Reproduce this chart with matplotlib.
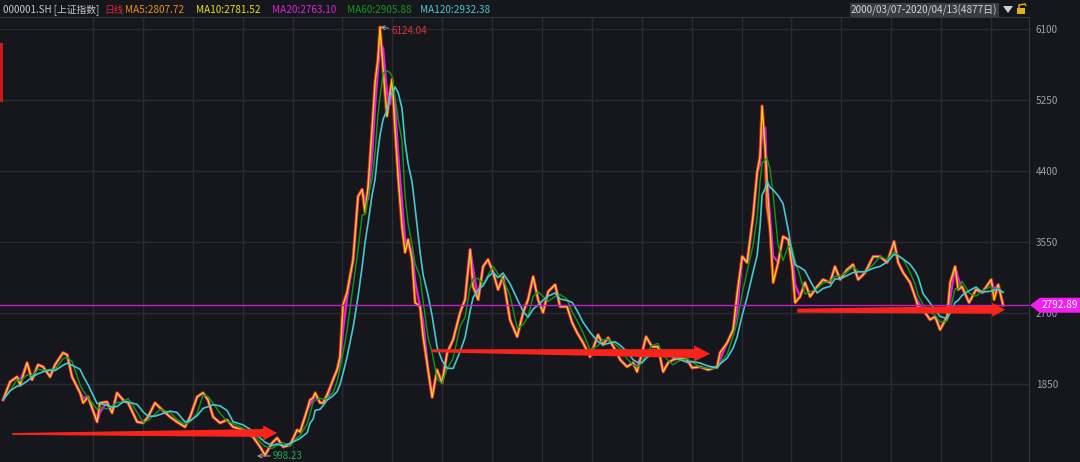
import numpy as np
import pandas as pd
import matplotlib
matplotlib.use('Agg')
import matplotlib.pyplot as plt
from matplotlib.patches import Polygon, Rectangle

plt.rcParams['font.family'] = ['Noto Sans CJK SC', 'DejaVu Sans']

BG = '#15171c'
GRID = '#2a2c32'

# trading-day offset from 2000/03/07 and close of the Shanghai Composite
day = [5, 39, 73, 88, 122, 146, 175, 200, 234, 258, 297, 317, 341, 380, 395, 419, 463, 477, 511, 536,
       560, 589, 614, 658, 687, 711, 745, 770, 818, 852, 891, 916, 950, 979, 1003, 1028, 1062, 1096, 1125, 1174,
       1223, 1257, 1281, 1315, 1340, 1369, 1403, 1437, 1452, 1486, 1500, 1515, 1525, 1549, 1564, 1583, 1612, 1632, 1646, 1661,
       1680, 1710, 1734, 1754, 1768, 1783, 1802, 1817, 1831, 1841, 1856, 1875, 1890, 1900, 1914, 1929, 1948, 1963, 1978, 1997,
       2012, 2036, 2051, 2075, 2095, 2119, 2143, 2168, 2197, 2231, 2255, 2280, 2294, 2319, 2343, 2367, 2392, 2416, 2440, 2474,
       2509, 2538, 2562, 2587, 2611, 2635, 2660, 2694, 2718, 2752, 2777, 2801, 2830, 2864, 2903, 2927, 2952, 2986, 3011, 3044,
       3074, 3093, 3117, 3137, 3166, 3195, 3220, 3244, 3268, 3303, 3337, 3361, 3400, 3439, 3483, 3497, 3532, 3561, 3580, 3605,
       3629, 3658, 3678, 3692, 3702, 3717, 3726, 3741, 3756, 3780, 3804, 3829, 3848, 3863, 3887, 3911, 3936, 3970, 3999, 4033,
       4057, 4082, 4116, 4145, 4170, 4204, 4243, 4277, 4311, 4345, 4365, 4389, 4423, 4447, 4462, 4486, 4520, 4545, 4569, 4603,
       4618, 4642, 4657, 4676, 4710, 4744, 4774, 4818, 4832, 4852, 4876]
close = [1660, 1876, 1936, 1840, 2104, 1900, 2080, 2056, 1936, 2080, 2224, 2200, 1936, 1744, 1624, 1696, 1396, 1624, 1636, 1504,
         1744, 1660, 1624, 1396, 1384, 1456, 1624, 1564, 1456, 1396, 1336, 1456, 1696, 1744, 1660, 1456, 1384, 1420, 1336, 1300,
         1216, 1096, 998.23, 1144, 1204, 1096, 1120, 1300, 1276, 1540, 1660, 1684, 1744, 1624, 1624, 1720, 1900, 2020, 2176, 2800,
         2944, 3340, 4096, 4180, 3904, 4216, 4900, 5464, 5740, 6124.04, 5620, 5056, 5344, 5500, 4900, 4336, 3736, 3424, 3580, 3340,
         2824, 2776, 2416, 2020, 1690, 2020, 1864, 2224, 2380, 2704, 2860, 3460, 3016, 2860, 3256, 3340, 3184, 2980, 3136, 2620,
         2416, 2704, 2860, 3136, 2860, 2704, 2956, 3040, 2776, 2776, 2584, 2464, 2344, 2176, 2440, 2320, 2404, 2260, 2140, 2056,
         2104, 1996, 2224, 2416, 2296, 2296, 1996, 2104, 2140, 2164, 2140, 2044, 2056, 2020, 2056, 2224, 2344, 2500, 2920, 3376,
         3304, 3856, 4384, 4576, 5178, 4660, 3976, 3700, 3064, 3304, 3616, 3580, 3256, 2824, 2896, 3064, 2896, 3016, 3100, 3064,
         3256, 3100, 3220, 3280, 3100, 3184, 3376, 3376, 3304, 3556, 3304, 3184, 3064, 2896, 2776, 2740, 2620, 2656, 2500, 2656,
         3064, 3256, 2980, 3016, 2824, 2980, 2944, 3100, 2860, 3040, 2792.89]

y_ticks = [1850, 2700, 3550, 4400, 5250, 6100]
last_close = 2792.89
peak_day, peak_val = 1841, 6124.04
low_day, low_val = 1281, 998.23

ma_periods = [5, 10, 20, 60, 120]
ma_colors = ['#f08c1c', '#e6e01a', '#e020e0', '#0e9a18', '#46c8d2']
header_ma = ['MA5:2807.72', 'MA10:2781.52', 'MA20:2763.10', 'MA60:2905.88', 'MA120:2932.38']

# moving averages over trading-day windows
s = pd.Series(close, index=pd.Timestamp('2000-03-07') + pd.to_timedelta(day, unit='D'))
ma = {n: s.rolling(f'{n}D').mean().values for n in ma_periods}

W, H = 1080, 462
fig = plt.figure(figsize=(W / 100, H / 100), dpi=100, facecolor=BG)


def px(x, y):
    return x / W, 1 - y / H


ax = fig.add_axes([0, 0, 1029 / W, (H - 17) / H], facecolor=BG)
ax.set_xlim(-10, 5002)
ax.set_ylim(916, 6244)

ax.set_xticks(np.arange(443, 4877, 243))
ax.set_yticks(y_ticks)
ax.grid(True, color=GRID, lw=1)
ax.tick_params(axis='x', length=0, labelbottom=False)
ax.yaxis.tick_right()
ax.tick_params(axis='y', length=0, pad=5, labelsize=7.2, labelcolor='#9ea1a7')
for side in ['left', 'bottom']:
    ax.spines[side].set_visible(False)
for side in ['top', 'right']:
    ax.spines[side].set_color('#34363c')

# price band with the short averages on top of it
ax.plot(day, close, color='#e0201c', lw=2.4)
ax.plot(day, ma[20], color=ma_colors[2], lw=1.6)
ax.plot(day, ma[5], color=ma_colors[0], lw=1.1)
ax.plot(day, ma[10], color=ma_colors[1], lw=0.7)
ax.plot(day, ma[60], color=ma_colors[3], lw=1.0)
ax.plot(day, ma[120], color=ma_colors[4], lw=1.2)

# latest close line
ax.axhline(last_close, color='#c21fc6', lw=1)

# extreme value labels
ax.annotate(f'{peak_val:.2f}', xy=(peak_day, peak_val), xytext=(1895, 6076),
            color='#d8333a', fontsize=7, va='center', ha='left',
            arrowprops=dict(arrowstyle='->', color='#9a9a9a', lw=0.8, shrinkA=0, shrinkB=0))
ax.annotate(f'{low_val:.2f}', xy=(low_day - 40, 988), xytext=(1320, 988),
            color='#1fa550', fontsize=7, va='center', ha='left',
            arrowprops=dict(arrowstyle='->', color='#9a9a9a', lw=0.8, shrinkA=0, shrinkB=0))


def tapered_arrow(x0, y0, x1, y1, w0, w1, hw, hl, color='#f8231a'):
    # widths in pixels, ends in data units
    p0 = ax.transData.transform((x0, y0))
    p1 = ax.transData.transform((x1, y1))
    d = p1 - p0
    L = np.hypot(*d)
    u = d / L
    n = np.array([-u[1], u[0]])
    b = p1 - u * hl
    pts = [p0 + n * w0 / 2, b + n * w1 / 2, b + n * hw / 2, p1,
           b - n * hw / 2, b - n * w1 / 2, p0 - n * w0 / 2]
    pts = ax.transData.inverted().transform(np.array(pts))
    ax.add_patch(Polygon(pts, closed=True, fc=color, ec='none', zorder=5))


tapered_arrow(49, 1252, 1340, 1264, 1.8, 8, 15, 14)
tapered_arrow(2095, 2248, 3449, 2212, 3, 9, 16, 16)
tapered_arrow(3873, 2728, 4886, 2740, 4, 8, 14, 13)

# header line
fig.text(*px(3, 10), '000001.SH [上证指数]', color='#c6c8cc', fontsize=7, va='center')
fig.text(*px(104, 10), '日线', color='#e0262a', fontsize=7, va='center')
for x, label, c in zip([125, 196, 272, 347, 420], header_ma, ma_colors):
    fig.text(*px(x, 10), label, color=c, fontsize=7.2, va='center')

fig.text(*px(851, 10), '2000/03/07-2020/04/13(4877日)', color='#d0d2d6', fontsize=7.2, va='center',
         bbox=dict(boxstyle='square,pad=0.1', fc='#3a3c42', ec='none'))

# dropdown triangle and lock icon
fig.patches.append(Polygon([px(1003, 6), px(1013, 6), px(1008, 13)], closed=True,
                           fc='#cfd1d5', ec='none', transform=fig.transFigure, figure=fig))
fig.patches.append(Rectangle(px(1017, 14), 8 / W, 6 / H, fc='#e2b21c', ec='none',
                             transform=fig.transFigure, figure=fig))
fig.patches.append(Polygon([px(1019, 8), px(1019, 5), px(1025, 4), px(1026, 6)], closed=False,
                           fill=False, ec='#e2b21c', lw=1, transform=fig.transFigure, figure=fig))

# red marker on the left edge
fig.patches.append(Rectangle(px(0, 102), 2.5 / W, 59 / H, fc='#cc1a1a', ec='none',
                             transform=fig.transFigure, figure=fig))

# latest close tag on the price axis
yl = ax.transData.transform((0, last_close))[1]
tag_y = H - yl
fig.patches.append(Polygon([px(1030, tag_y), px(1040, tag_y - 7.5), px(1080, tag_y - 7.5),
                            px(1080, tag_y + 7.5), px(1040, tag_y + 7.5)], closed=True,
                           fc='#f21ef2', ec='none', transform=fig.transFigure, figure=fig))
fig.text(*px(1060, tag_y), f'{last_close:.2f}', color='white', fontsize=7.2, va='center', ha='center')

fig.savefig('out.png', dpi=100, facecolor=BG)
